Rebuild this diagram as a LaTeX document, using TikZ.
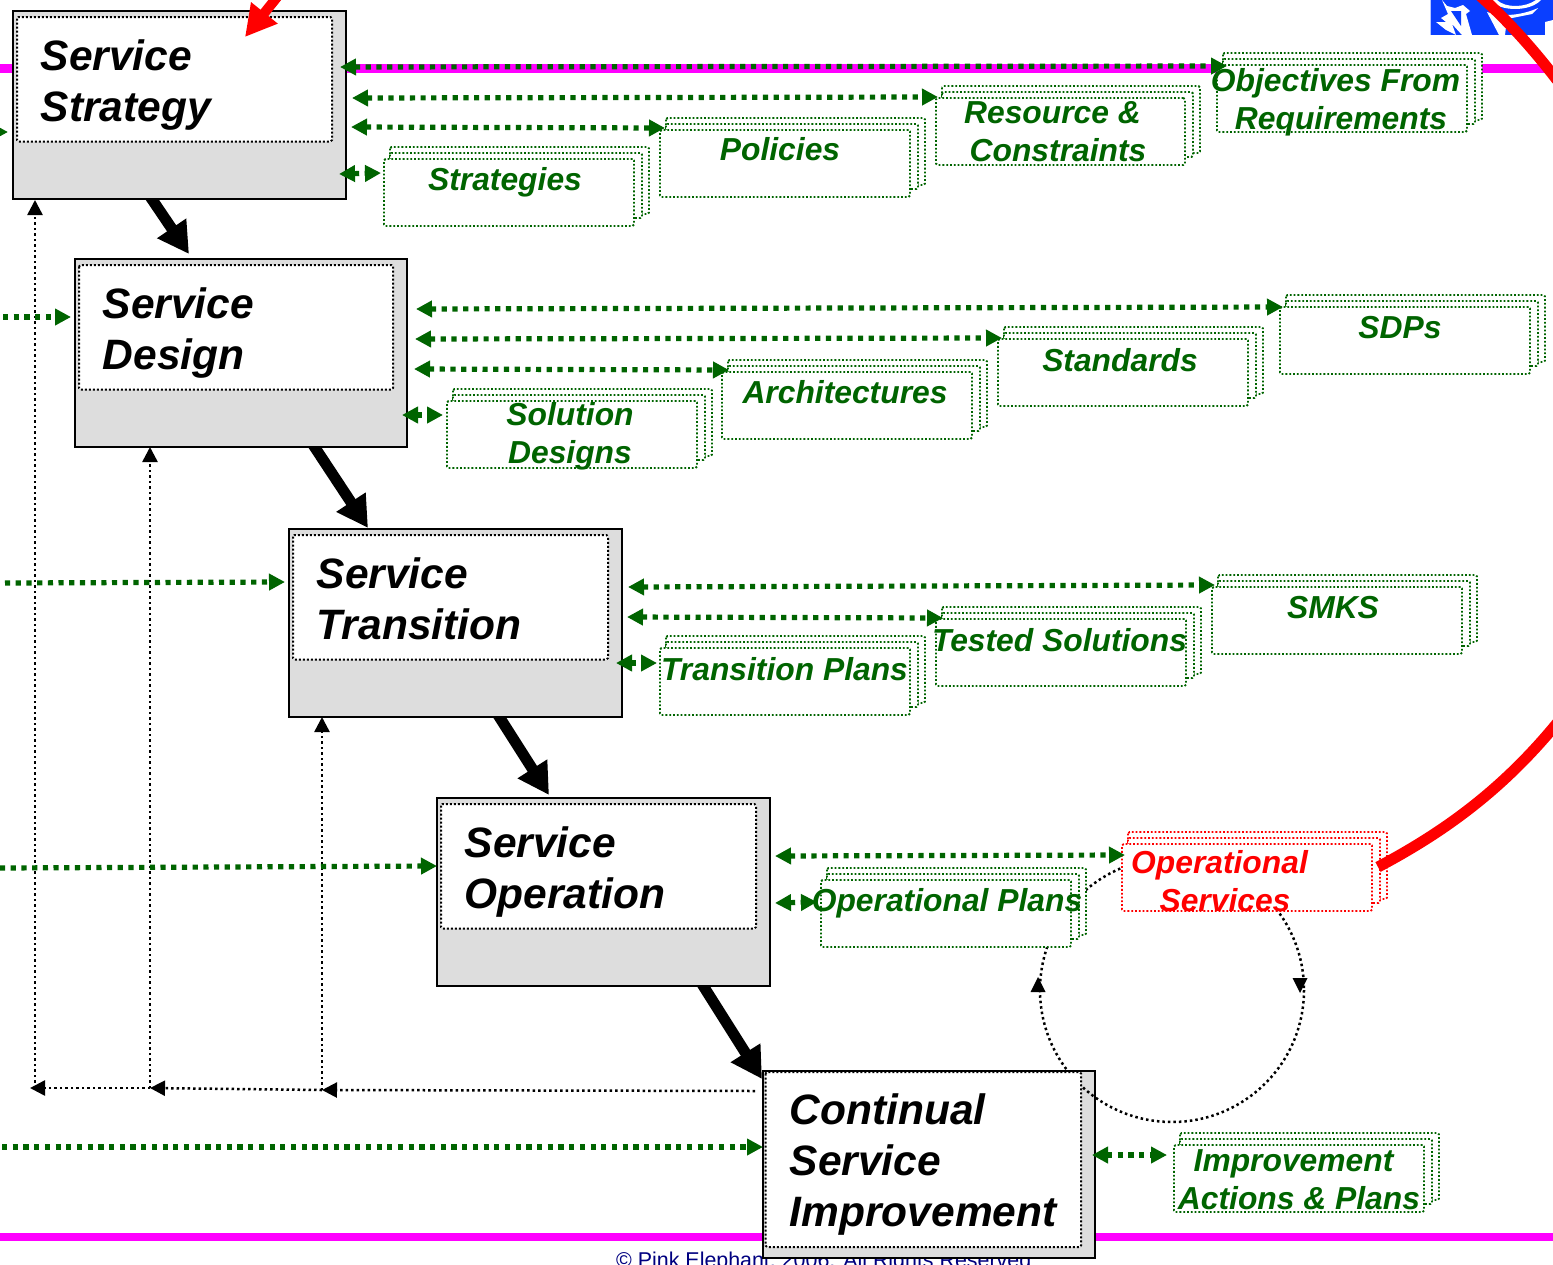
\documentclass[tikz,border=0pt]{standalone}
\usepackage{fontspec}
\setmainfont{Liberation Sans}
\usetikzlibrary{arrows.meta,calc}
\definecolor{dgreen}{HTML}{006400}
\definecolor{boxgray}{HTML}{DDDDDD}
\definecolor{logoblue}{HTML}{0A3FFF}
\definecolor{mag}{HTML}{FF00FF}
\definecolor{navytext}{HTML}{000080}
\pgfdeclarelayer{bglayer}
\pgfdeclarelayer{arrowlayer}
\pgfsetlayers{bglayer,arrowlayer,main}
\tikzset{
  procbox/.style={draw=black,fill=boxgray,line width=2.2pt,inner sep=0pt,outer sep=0pt},
  innerbox/.style={draw=black,fill=white,line width=2pt,dash pattern=on 2pt off 2pt,rounded corners=1.5pt},
  doclayer/.style={draw=#1,fill=white,line width=1.8pt,dash pattern=on 1.8pt off 2pt,rounded corners=1.5pt,inner sep=0pt,outer sep=0pt},
  titletext/.style={font=\fontsize{42.5}{51}\selectfont\bfseries\itshape,align=left,anchor=base west,inner sep=0pt,text=black},
  doctext/.style={font=\fontsize{31.8}{38}\selectfont\bfseries\itshape,align=center,anchor=base,inner sep=0pt,text=#1},
  doctext/.default=dgreen,
  greenlink/.style={draw=dgreen,line width=5.2pt,dash pattern=on 5.2pt off 5.5pt},
  gtip/.style={{Triangle[length=16pt,width=16pt,color=dgreen]}-{Triangle[length=16pt,width=16pt,color=dgreen]}},
  gend/.style={-{Triangle[length=16pt,width=16pt,color=dgreen]}},
  thinlink/.style={draw=black,line width=2.5pt,dash pattern=on 2.5pt off 3pt,-{Triangle[length=15pt,width=15pt]}},
  flowarrow/.style={draw=black,line width=11pt,-{Triangle[length=31pt,width=33pt]}},
  redline/.style={draw=red,line width=11pt},
}
\newcommand{\procnode}[5]{\node[procbox,minimum width={#4-#2},minimum height={#5-#3}] (#1) at ({(#2+#4)/2},{(#3+#5)/2}) {};}
\newcommand{\docstack}[6]{%
  \draw[doclayer=#6] ({#2+6},{#3-12}) rectangle ({#4+15},{#5-12});
  \draw[doclayer=#6] ({#2+6},{#3-6}) rectangle ({#4+8},{#5-8});
  \node[doclayer=#6,minimum width={#4-#2},minimum height={#5-#3}] (#1) at ({(#2+#4)/2},{(#3+#5)/2}) {};
}
\begin{document}
\begin{tikzpicture}[x=1pt,y=-1pt]
\useasboundingbox (0,0) rectangle (1553,1264);
\begin{pgfonlayer}{bglayer}
  \fill[white] (0,0) rectangle (1553,1264);
  \fill[mag] (0,64) rectangle (1545,72.5);
  \fill[mag] (0,1232.5) rectangle (1553,1241);
  \node[anchor=base west,inner sep=0pt,text=navytext,font=\fontsize{21.4}{26}\selectfont] (footer) at (616,1267.5) {© Pink Elephant, 2006. All Rights Reserved};
  \procnode{csi}{763}{1071}{1095}{1258}
\end{pgfonlayer}
% logo
\fill[logoblue] (1430,0) rectangle (1553,35);
\draw[white!70!logoblue,line width=.7pt] (1430.3,0) -- (1430.3,35);
\fill[white] (1442,0) -- (1447,6) -- (1455,8) -- (1463,5) -- (1470,11) -- (1466,14) -- (1472,35) -- (1462,35) -- (1452,24) -- (1456,35) -- (1446,30) -- (1436,22) -- (1446,22) -- (1441,18) -- (1448,14) -- cycle;
\fill[logoblue] (1451,11) -- (1461,11) -- (1461,26) -- cycle;
\fill[white] (1490,0) .. controls (1500,12) and (1530,12) .. (1541,0) -- (1536,0) .. controls (1525,8) and (1505,8) .. (1497,0) -- cycle;
\fill[white] (1487,12) .. controls (1505,18) and (1525,14) .. (1538,8) -- (1532,14) -- (1507,19) -- (1505,35) -- (1499,35) -- cycle;
\fill[white] (1545,35) -- (1545,22) -- (1553,20) -- (1553,35) -- cycle;
\draw[red,line width=11pt] (1478,-6) .. controls (1505,18) and (1530,45) .. (1557,80);
% process boxes
\procnode{strat}{13}{11}{346}{199}
\procnode{design}{75}{259}{407}{447}
\procnode{trans}{289}{529}{622}{717}
\procnode{oper}{437}{798}{770}{986}
% cycle
\draw[draw=black,line width=2.5pt,dash pattern=on 2.5pt off 3pt] (1172,990) circle [radius=132];
% inner boxes
\draw[innerbox] (17,17) rectangle (332,141.5);
\draw[innerbox] (79,265) rectangle (393,389.5);
\draw[innerbox] (293,535) rectangle (608,659.5);
\draw[innerbox] (441,804) rectangle (756,928.5);
\draw[innerbox] (765.5,1072) rectangle (1081,1247);
% documents
\docstack{dstr}{384}{159}{634}{226}{dgreen}
\docstack{dpol}{660}{130}{910}{197}{dgreen}
\docstack{dres}{936}{98}{1185}{165}{dgreen}
\docstack{dobj}{1217}{65}{1467}{132}{dgreen}
\docstack{dsol}{447}{401}{697}{468}{dgreen}
\docstack{darc}{722}{372}{972}{439}{dgreen}
\docstack{dstd}{998}{339}{1248}{406}{dgreen}
\docstack{dsdp}{1280}{307}{1530}{374}{dgreen}
\docstack{dtra}{660}{648}{910}{715}{dgreen}
\docstack{dtes}{936}{619}{1186}{686}{dgreen}
\docstack{dsmk}{1212}{587}{1462}{654}{dgreen}
\docstack{dopl}{821}{880}{1071}{947}{dgreen}
\docstack{dops}{1122}{844}{1372}{911}{red}
\docstack{dimp}{1174}{1145}{1424}{1212}{dgreen}
% flow arrows
\begin{pgfonlayer}{arrowlayer}
  \draw[flowarrow] ($(strat.south west)+(132,-10)$) -- ($(design.north west)+(114,-5)$);
  \draw[flowarrow] ($(design.south west)+(233,-10)$) -- ($(trans.north west)+(79,-1)$);
  \draw[flowarrow] ($(trans.south west)+(204,-10)$) -- ($(oper.north west)+(112,-3)$);
  \draw[flowarrow] ($(oper.south west)+(260,-10)$) -- ($(csi.north west)+(-1,8)$);
\end{pgfonlayer}
% cycle heads
\fill[black] (1292.5,978) -- (1307.5,978) -- (1300,993) -- cycle;
\fill[black] (1030.5,992) -- (1045.5,992) -- (1038,977) -- cycle;
% feedback links
\coordinate (busA) at (35,1088);
\coordinate (busB) at (150,1088);
\coordinate (busC) at (322,1090);
\draw[thinlink] (busA) -- ($(strat.south west)+(22,1)$);
\draw[thinlink] (busB) -- ($(design.south west)+(75,0)$);
\draw[thinlink] (busC) -- ($(trans.south west)+(33,0)$);
\draw[thinlink] ($(csi.north west)+(-8,20)$) -- (busC);
\draw[thinlink] (busC) -- (busB);
\draw[thinlink] (busB) -- (30,1088);
% green links
\coordinate (inA) at (-7,132);
\coordinate (inB) at (3,317);
\coordinate (inC) at (5,583);
\coordinate (inD) at (0,868);
\coordinate (inE) at (2,1147);
\draw[greenlink,gend] (inA) -- ($(strat.north west)+(-5,121)$);
\draw[greenlink,gend] (inB) -- ($(design.north west)+(-4,58)$);
\draw[greenlink,gend] (inC) -- ($(trans.north west)+(-4,53)$);
\draw[greenlink,gend] (inD) -- ($(oper.north west)+(0,68)$);
\draw[greenlink,gend] (inE) -- ($(csi.north west)+(0,76)$);
\draw[greenlink,gtip] ($(strat.north east)+(-6,56)$) -- ($(dobj.north west)+(10,1)$);
\draw[greenlink,gtip] ($(strat.north east)+(6,87)$) -- ($(dres.north west)+(2,-1)$);
\draw[greenlink,gtip] ($(strat.north east)+(5,116)$) -- ($(dpol.north west)+(5,-2)$);
\draw[greenlink,gtip] ($(strat.north east)+(-7,163)$) -- ($(dstr.north west)+(-3,14)$);
\draw[greenlink,gtip] ($(design.north east)+(9,50)$) -- ($(dsdp.north west)+(3,0)$);
\draw[greenlink,gtip] ($(design.north east)+(8,80)$) -- ($(dstd.north west)+(4,-1)$);
\draw[greenlink,gtip] ($(design.north east)+(7,110)$) -- ($(darc.north west)+(7,-2)$);
\draw[greenlink,gtip] ($(design.north east)+(-5,156)$) -- ($(dsol.north west)+(-4,14)$);
\draw[greenlink,gtip] ($(trans.north east)+(6,58)$) -- ($(dsmk.north west)+(3,-2)$);
\draw[greenlink,gtip] ($(trans.north east)+(5,88)$) -- ($(dtes.north west)+(7,-1)$);
\draw[greenlink,gtip] ($(trans.north east)+(-6,134)$) -- ($(dtra.north west)+(-3,15)$);
\draw[greenlink,gtip] ($(oper.north east)+(5,58)$) -- ($(dops.north west)+(3,11)$);
\draw[greenlink,gtip] ($(oper.north east)+(5,105)$) -- ($(dopl.north west)+(-4,22)$);
\draw[greenlink,gtip] ($(csi.north east)+(-3,84)$) -- ($(dimp.north west)+(-7,10)$);
% red connectors
\draw[redline] ($(dops.north east)+(6,23)$) .. controls (1440,834) and (1500,793) .. (1558,722);
\draw[red,line width=10pt,-{Triangle[length=31pt,width=32pt]}] (282,-9) -- ($(strat.north west)+(232,26)$);
% titles (a many-line node's base is that of its last line)
\node[titletext] (tstrat) at ($(strat.north west)+(27.5,110)$) {Service\\Strategy};
\node[titletext] (tdesign) at ($(design.north west)+(27.5,110)$) {Service\\Design};
\node[titletext] (ttrans) at ($(trans.north west)+(27.5,110)$) {Service\\Transition};
\node[titletext] (toper) at ($(oper.north west)+(27.5,110)$) {Service\\Operation};
\node[titletext] (tcsi) at ($(csi.north west)+(26.5,155)$) {Continual\\Service\\Improvement};
% document texts
\node[doctext] (lstr) at (505,190) {Strategies};
\node[doctext] (lpol) at (780,160) {Policies};
\node[doctext] (lres) at (1058,161) {Resource \&\hspace*{11pt}\\Constraints};
\node[doctext] (lobj) at (1341,129) {Objectives From\hspace*{11pt}\\Requirements};
\node[doctext] (lsol) at (570,463) {Solution\\Designs};
\node[doctext] (larc) at (845,403) {Architectures};
\node[doctext] (lstd) at (1120,371) {Standards};
\node[doctext] (lsdp) at (1400,338) {SDPs};
\node[doctext] (ltra) at (784.5,680) {Transition Plans};
\node[doctext] (ltes) at (1059.5,651) {Tested Solutions};
\node[doctext] (lsmk) at (1333,618) {SMKS};
\node[doctext] (lopl) at (947,911) {Operational Plans};
\node[doctext=red] (lops) at (1225,911) {Operational\hspace*{11pt}\\Services};
\node[doctext] (limp) at (1299,1209) {Improvement\hspace*{11pt}\\Actions \& Plans};
\end{tikzpicture}
\end{document}
